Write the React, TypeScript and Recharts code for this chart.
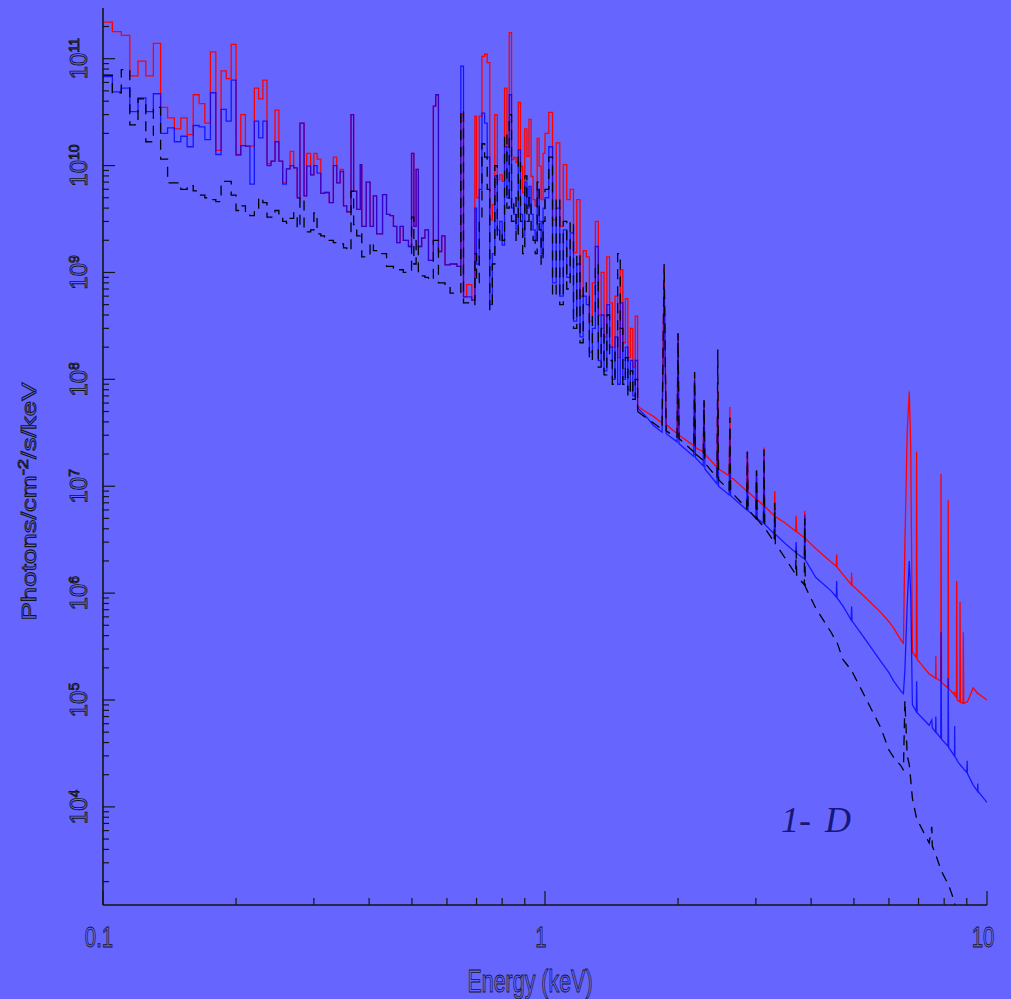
import React from "react";
import { LineChart, Line, XAxis, YAxis } from "recharts";

const BG = "#6666ff";
const INK = "#151515";

// binned part of the spectrum (0.1 - 1.62 keV), drawn as steps
const binEnergy = [
  0.1, 0.105, 0.11, 0.115, 0.12, 0.125, 0.13, 0.135, 0.14, 0.145, 0.15, 0.155, 0.16, 0.165, 0.17, 0.175, 0.18, 0.185,
  0.19, 0.195, 0.2, 0.205, 0.21, 0.215, 0.22, 0.225, 0.23, 0.235, 0.24, 0.245, 0.25, 0.255, 0.26, 0.265, 0.27, 0.275,
  0.279, 0.285, 0.289, 0.295, 0.3, 0.305, 0.311, 0.317, 0.325, 0.332, 0.338, 0.344, 0.35, 0.356, 0.364, 0.369, 0.375,
  0.382, 0.385, 0.394, 0.402, 0.409, 0.416, 0.429, 0.438, 0.446, 0.454, 0.462, 0.47, 0.478, 0.491, 0.499, 0.505, 0.511,
  0.517, 0.526, 0.535, 0.545, 0.559, 0.566, 0.574, 0.584, 0.594, 0.61, 0.632, 0.645, 0.654, 0.665, 0.683, 0.694,
  0.7, 0.71, 0.72, 0.73, 0.74, 0.75, 0.76, 0.77, 0.78, 0.79, 0.8, 0.81, 0.82, 0.83, 0.84, 0.85, 0.86, 0.87, 0.88, 0.89,
  0.9, 0.91, 0.92, 0.93, 0.94, 0.95, 0.96, 0.97, 0.98, 0.99,
  1.0, 1.02, 1.04, 1.06, 1.08, 1.1, 1.12, 1.14, 1.16, 1.18, 1.2, 1.22, 1.24, 1.26, 1.28, 1.3, 1.32, 1.34, 1.36, 1.38,
  1.4, 1.42, 1.44, 1.46, 1.48, 1.5, 1.52, 1.54, 1.56, 1.58, 1.6, 1.62,
];

const redBin = [
  2.2e11, 1.79e11, 1.65e11, 6.9e10, 9.5e10, 6.9e10, 1.39e11, 3.5e10, 2.8e10, 2.2e10, 2.8e10, 1.95e10, 4.6e10, 3.8e10,
  2.5e10, 1.16e11, 1.39e10, 7.7e10, 6.5e10, 1.36e11, 1.27e10, 3.0e10, 1.52e10, 1.52e10, 5.3e10, 4.2e10, 6.3e10, 1.04e10,
  1.1e10, 3.3e10, 1.1e10, 6.9e9, 9.3e9, 1.36e10, 9.5e9, 5.0e9,
  2.5e10, 5.2e9, 1.3e10, 8.2e9, 1.3e10, 1.15e10, 5.5e9, 5.6e9, 4.5e9, 1.2e10, 6.9e9, 9.2e9, 4.2e9, 3.7e9, 3.0e10, 5.75e9,
  3.9e9, 1.02e10, 2.7e9, 7.0e9, 2.7e9, 5.2e9, 2.3e9, 5.35e9, 3.5e9, 3.4e9, 2.7e9, 1.9e9, 2.7e9, 2.0e9, 1.75e9, 1.3e10,
  2.7e9, 9.2e9, 1.75e9, 2.1e9, 2.5e9, 1.3e9, 3.6e10, 4.6e10, 1.57e9, 2.2e9, 1.18e9, 1.2e9, 1.14e9, 3.0e10, 5.9e8, 7.7e8,
  5.5e8, 2.9e10,
  5e9, 2.9e10, 1.05e11, 1.1e11, 9.2e10, 3.1e9, 4.3e9, 3.0e10, 7.4e9, 8.2e9, 7.1e9, 5.3e10, 1.5e10, 1.75e11, 1.14e10,
  1.19e10, 1.07e10, 3.9e10, 9.9e9, 5.6e9, 2.2e10, 1.22e10, 2.7e10, 7.9e9, 4.8e9, 4.2e9, 1.8e10, 9.9e9, 4.8e9, 1.3e10,
  2.0e10, 3.15e10, 3.1e9, 1.63e10, 2.7e9, 1.02e10, 4.8e9, 6.0e9, 1.53e9, 4.8e9, 6e8, 1.6e9, 1.4e9, 3.5e8, 8e8, 3.0e9,
  4e8, 1.0e9, 2.5e8, 1.4e9, 5.2e8, 2.0e8, 6e8, 1.6e8, 1.06e9, 2.2e8, 5.7e8, 1.6e8, 3.0e8, 1.3e8, 3.9e8, 5.6e7,
];

const blueBin = [
  6.8e10, 4.9e10, 5.3e10, 3.2e10, 4.3e10, 3.2e10, 4.7e10, 2.0e10, 2.25e10, 1.67e10, 1.88e10, 1.5e10, 2.37e10, 2.3e10,
  1.75e10, 4.8e10, 1.27e10, 3.35e10, 2.6e10, 6.3e10, 1.25e10, 1.54e10, 1.52e10, 6.7e9, 2.6e10, 1.82e10, 2.6e10, 1.0e10,
  1.1e10, 1.67e10, 1.1e10, 6.7e9, 9.3e9, 1.0e10, 9.5e9, 5.0e9,
  2.5e10, 5.2e9, 9.9e9, 8.2e9, 1.0e10, 8.5e9, 5.5e9, 5.6e9, 4.5e9, 1.0e10, 6.9e9, 8.8e9, 4.2e9, 3.7e9, 3.0e10, 5.75e9,
  3.9e9, 1.02e10, 2.7e9, 7.0e9, 2.7e9, 5.2e9, 2.3e9, 5.35e9, 3.5e9, 3.4e9, 2.7e9, 1.9e9, 2.7e9, 2.0e9, 1.75e9, 1.3e10,
  2.7e9, 9.2e9, 1.75e9, 2.1e9, 2.5e9, 1.3e9, 3.6e10, 4.6e10, 1.57e9, 2.2e9, 1.18e9, 1.2e9, 1.14e9, 8.5e10, 5.9e8, 5.9e8,
  5.5e8, 4.0e9,
  1.2e9, 6e9, 3.1e10, 2.5e10, 1.2e10, 5e8, 1.5e9, 8e9, 2.5e9, 3e9, 1.8e9, 1.5e10, 5e9, 4.6e10, 4e9, 3.5e9, 2.5e9, 1.4e10,
  3.5e9, 2.2e9, 7e9, 4e9, 6.4e9, 3.5e9, 2.5e9, 2.0e9, 6e9, 3e9, 1.5e9, 4e9,
  5e9, 1.5e10, 8e8, 4e9, 6e8, 2.5e9, 9e8, 2.35e9, 3.5e8, 1.2e9, 2.5e8, 6e8, 5e8, 1.8e8, 3e8, 1.75e9, 1.5e8, 4e8, 1.2e8,
  5e8, 2e8, 1.0e8, 2.5e8, 9e7, 5.2e8, 1.0e8, 2.0e8, 8e7, 1.5e8, 7e7, 1.5e8, 5.4e7,
];

const blackBin = [
  7.0e10, 4.8e10, 7.9e10, 2.4e10, 4.2e10, 1.67e10, 3.5e10, 1.15e10, 6.9e9, 6.9e9, 6.0e9, 6.5e9, 5.8e9, 5.3e9, 5.0e9,
  4.8e9, 4.6e9, 7.1e9, 7.1e9, 5.3e9, 3.8e9, 4.2e9, 3.5e9, 3.4e9, 4.0e9, 5.0e9, 4.5e9, 3.3e9, 3.3e9, 3.8e9, 3.2e9, 3.0e9,
  2.9e9, 3.2e9, 3.6e9, 2.6e9,
  5.0e9, 2.6e9, 2.4e9, 2.5e9, 3.6e9, 2.3e9, 2.2e9, 2.1e9, 2.0e9, 1.9e9, 1.9e9, 1.85e9, 1.7e9, 1.6e9, 5.75e9, 2.8e9,
  2.2e9, 2.4e9, 1.4e9, 1.4e9, 1.9e9, 1.6e9, 1.5e9, 1.5e9, 1.14e9, 1.14e9, 1.1e9, 1.06e9, 1.06e9, 1.0e9, 1.0e9, 3.3e9,
  1.2e9, 2.0e9, 9.3e8, 9.3e8, 9.0e8, 8.5e8, 2.0e9, 2.0e9, 8.0e8, 8.0e8, 7.5e8, 6.4e8, 6.4e8, 3.3e10, 5.2e8, 5.2e8,
  5.0e8, 1.5e9,
  8e8, 3e9, 1.6e10, 1.2e10, 6e9, 4.5e8, 1.2e9, 1e10, 2e9, 2.5e9, 2e9, 2e10, 4e9, 3e10, 3e9, 5e9, 2e9, 1.2e10, 3e9, 1.5e9,
  8e9, 3e9, 5e9, 2.5e9, 2e9, 1.5e9, 7e9, 2.5e9, 1.2e9, 3e9,
  6e9, 1.2e10, 6e8, 5e9, 5e8, 3e9, 7e8, 3e9, 3e8, 1.5e9, 2.2e8, 8e8, 6e8, 1.5e8, 4e8, 1.2e9, 1.3e8, 3e8, 1.1e8, 4e8,
  1.5e8, 9e7, 2e8, 1.5e9, 3e8, 9e7, 1.6e8, 7e7, 1.2e8, 6.5e7, 1.0e8, 5.0e7,
];

// continuum + emission lines (1.62 - 10 keV)
const lineEnergy = [
  1.62, 1.7, 1.76, 1.84, 1.86, 1.88, 1.92, 1.99, 2.0, 2.01, 2.17, 2.18, 2.19, 2.28, 2.29, 2.3, 2.45, 2.46, 2.47, 2.61,
  2.62, 2.63, 2.67, 2.86, 2.87, 2.88, 3.0, 3.01, 3.02, 3.12, 3.13, 3.14, 3.3, 3.31, 3.32, 3.5, 3.69, 3.7, 3.71, 3.86,
  3.87, 3.88, 4.1, 4.44, 4.56, 4.57, 4.58, 4.72, 4.93, 4.94, 4.95, 5.28, 5.75, 6.0, 6.15, 6.4, 6.47, 6.52, 6.6, 6.67,
  6.72, 6.78, 6.92, 6.93, 6.95, 7.4, 7.5, 7.52, 7.65, 7.66, 7.67, 7.86, 7.87, 7.89, 8.16, 8.17, 8.19, 8.44, 8.45, 8.46,
  8.53, 8.54, 8.56, 8.68, 8.69, 8.71, 8.83, 8.84, 8.86, 9.0, 9.02, 9.03, 9.31, 9.52, 9.53, 9.54, 10,
];

const redLine = [
  5.6e7, 4.9e7, 4.5e7, 3.9e7, 1.1e9, 3.8e7, 3.5e7, 3.1e7, 2.7e8, 3.0e7, 2.4e7, 1.17e8, 2.3e7, 2.1e7, 6.2e7, 2.0e7,
  1.5e7, 8e7, 1.45e7, 1.25e7, 5.5e7, 1.2e7, 1.17e7, 9.0e6, 2.1e7, 8.9e6, 7.6e6, 1.4e7, 7.5e6, 6.6e6, 2.3e7, 6.5e6,
  5.3e6, 9.0e6, 5.2e6, 4.5e6, 3.8e6, 5.3e6, 3.75e6, 3.3e6, 5.9e6, 3.25e6, 2.6e6, 1.95e6, 1.78e6, 2.3e6, 1.75e6, 1.5e6,
  1.2e6, 1.55e6, 1.19e6, 9.3e5, 6.6e5, 5.4e5, 4.7e5, 3.6e5, 3.4e5, 2.9e6, 3.3e7, 7.7e7, 2.5e7, 2.8e5, 2.5e5, 2.1e7,
  2.4e5, 1.75e5, 1.7e5, 1.68e5, 1.6e5, 2.6e5, 1.6e5, 1.5e5, 1.3e7, 1.45e5, 1.3e5, 7.4e6, 1.28e5, 1.12e5, 1.2e5, 1.1e5,
  1.05e5, 1.3e6, 1.0e5, 9.6e4, 8.3e5, 9.5e4, 9.3e4, 4.3e5, 9.3e4, 9.6e4, 9.6e4, 9.6e4, 1.3e5, 1.15e5, 1.15e5, 1.15e5,
  1.0e5,
];

const blueLine = [
  5.4e7, 4.4e7, 3.7e7, 3.2e7, 7.4e8, 3.1e7, 2.9e7, 2.6e7, 2.7e8, 2.5e7, 1.9e7, 1.0e8, 1.85e7, 1.55e7, 6.2e7, 1.45e7,
  1.05e7, 6e7, 1.0e7, 8.3e6, 3.5e7, 8.2e6, 7.7e6, 6.0e6, 2.1e7, 5.9e6, 5.1e6, 1.4e7, 5.0e6, 4.5e6, 2.0e7, 4.4e6,
  3.6e6, 6.0e6, 3.55e6, 2.9e6, 2.4e6, 3.0e6, 2.35e6, 2.1e6, 5.4e6, 2.05e6, 1.4e6, 1.05e6, 9.2e5, 1.3e6, 9.0e5, 7.6e5,
  5.6e5, 7.5e5, 5.5e5, 3.8e5, 2.3e5, 1.8e5, 1.5e5, 1.2e5, 1.15e5, 1.9e5, 8.0e5, 2.0e6, 1.0e6, 9.0e4, 7.8e4, 1.5e5,
  7.6e4, 5.8e4, 6.5e4, 5.5e4, 5.0e4, 7.0e4, 5.0e4, 4.4e4, 4.3e5, 4.3e4, 3.7e4, 1.6e5, 3.6e4, 3.0e4, 5.7e4, 2.95e4,
  2.8e4, 2.8e4, 2.7e4, 2.5e4, 2.5e4, 2.45e4, 2.3e4, 2.3e4, 2.25e4, 2.1e4, 2.7e4, 2.05e4, 1.6e4, 1.4e4, 1.65e4, 1.4e4,
  1.1e4,
];

const blackLine = [
  5.0e7, 4.3e7, 3.9e7, 3.4e7, 1.2e9, 3.3e7, 3.1e7, 2.9e7, 2.7e8, 2.8e7, 2.1e7, 1.17e8, 2.0e7, 1.75e7, 6.4e7, 1.65e7,
  1.2e7, 1.9e8, 1.15e7, 9.2e6, 4.4e7, 9.0e6, 8.4e6, 6.2e6, 2.1e7, 6.1e6, 5.0e6, 1.4e7, 4.9e6, 4.2e6, 2.2e7, 4.1e6,
  3.0e6, 7.0e6, 2.9e6, 2.1e6, 1.5e6, 2.5e6, 1.45e6, 1.2e6, 5.0e6, 1.15e6, 7.2e5, 4.3e5, 3.5e5, 3.5e5, 3.45e5, 2.4e5,
  1.9e5, 1.9e5, 1.85e5, 1.1e5, 5.5e4, 3.4e4, 2.9e4, 2.4e4, 2.2e4, 9.9e4, 3.0e4, 2.5e4, 1.8e4, 1.2e4, 8.0e3, 7.8e3,
  7.6e3, 4.6e3, 6.5e3, 4.3e3, 3.6e3, 3.5e3, 3.5e3, 2.6e3, 2.6e3, 2.5e3, 1.9e3, 1.9e3, 1.85e3, 1.3e3, 1.25e3, 1.2e3,
  1.1e3, 1.0e3, 9.5e2, 8.5e2, 8.4e2, 8.2e2, 7.5e2, 7.4e2, 7.2e2, 6.5e2, 6.3e2, 6.2e2, 5.0e2, 4.3e2, 4.2e2, 4.2e2,
  3.0e2,
];

const xTicks = [0.1, 0.2, 0.3, 0.4, 0.5, 0.6, 0.7, 0.8, 0.9, 1, 2, 3, 4, 5, 6, 7, 8, 9, 10];
const xTickLabels: Record<number, string> = { 0.1: "0.1", 1: "1", 10: "10" };
const yDecades = [3, 4, 5, 6, 7, 8, 9, 10, 11];
const yMantissas = [1, 2, 3, 4, 5, 6, 7, 8, 9];

const X_DOMAIN = [0.1, 10];
const Y_DOMAIN = [1208, 2.98e11];
const yTicks = yDecades
  .flatMap((d) => yMantissas.map((m) => m * Math.pow(10, d)))
  .filter((v) => v >= Y_DOMAIN[0] && v <= Y_DOMAIN[1]);

const binRows = binEnergy.map((e, i) => ({ e, red: redBin[i], blue: blueBin[i], black: blackBin[i] }));
const lineRows = lineEnergy.map((e, i) => ({ e, red: redLine[i], blue: blueLine[i], black: blackLine[i] }));

const isDecade = (v: number) => Math.abs(Math.log10(v) - Math.round(Math.log10(v))) < 1e-9;

const outline = { fill: BG, stroke: INK, strokeWidth: 0.9, fontFamily: "'Liberation Sans', Arial, sans-serif" };

const BottomTick = (props: any) => {
  const { x, y, payload } = props;
  const major = isDecade(payload.value);
  const label = xTickLabels[payload.value];
  return (
    <g>
      <line x1={x} y1={y} x2={x} y2={y - (major ? 14 : 7)} stroke={INK} strokeWidth={1.2} />
      {label && (
        <text transform={`translate(${x - 4} ${y + 42}) scale(0.68 1)`} textAnchor="middle" fontSize={30} {...outline}>
          {label}
        </text>
      )}
    </g>
  );
};

const TopTick = (props: any) => {
  const { x, y, payload } = props;
  const major = isDecade(payload.value);
  return <line x1={x} y1={y} x2={x} y2={y + (major ? 14 : 7)} stroke={INK} strokeWidth={1.2} />;
};

const LeftTick = (props: any) => {
  const { x, y, payload } = props;
  const major = isDecade(payload.value);
  const exp = Math.round(Math.log10(payload.value));
  const lx = x - 16;
  return (
    <g>
      <line x1={x} y1={y} x2={x + (major ? 12 : 6)} y2={y} stroke={INK} strokeWidth={1.2} />
      {major && (
        <text transform={`rotate(-90 ${lx} ${y})`} x={lx} y={y} textAnchor="middle" fontSize={24} {...outline}>
          10
          <tspan fontSize={14} dy={-8}>
            {exp}
          </tspan>
        </text>
      )}
    </g>
  );
};

const RightTick = (props: any) => {
  const { x, y, payload } = props;
  const major = isDecade(payload.value);
  return <line x1={x} y1={y} x2={x - (major ? 12 : 6)} y2={y} stroke={INK} strokeWidth={1.2} />;
};

const XTitle = (props: any) => {
  const vb = props.viewBox;
  const cx = vb.x + vb.width / 2 - 15;
  return (
    <text transform={`translate(${cx} ${vb.y + 87}) scale(0.67 1)`} textAnchor="middle" fontSize={32} {...outline}>
      Energy (keV)
    </text>
  );
};

const YTitle = (props: any) => {
  const vb = props.viewBox;
  const bx = vb.x + 36;
  const cy = vb.y + vb.height / 2 + 45;
  return (
    <text
      transform={`rotate(-90 ${bx} ${cy})`}
      x={bx}
      y={cy}
      textAnchor="middle"
      fontSize={21}
      textLength={238}
      lengthAdjust="spacingAndGlyphs"
      {...outline}
    >
      Photons/cm
      <tspan fontSize={14} dy={-8}>
        -2
      </tspan>
      <tspan dy={8}>/s/keV</tspan>
    </text>
  );
};

const axisLine = { stroke: INK, strokeWidth: 1.6 };

export default function App() {
  return (
    <div style={{ position: "absolute", left: 0, top: 0, width: 1011, height: 999, background: BG }}>
      <LineChart width={1011} height={999} margin={{ top: 8, right: 24, bottom: 0, left: 0 }}>
        <XAxis
          xAxisId="b"
          dataKey="e"
          type="number"
          scale="log"
          domain={X_DOMAIN}
          allowDataOverflow
          ticks={xTicks}
          interval={0}
          height={94}
          tickSize={0}
          tickMargin={0}
          tickLine={false}
          axisLine={axisLine}
          tick={<BottomTick />}
          label={<XTitle />}
        />
        <XAxis
          xAxisId="t"
          orientation="top"
          dataKey="e"
          type="number"
          scale="log"
          domain={X_DOMAIN}
          allowDataOverflow
          ticks={xTicks}
          interval={0}
          height={0}
          tickSize={0}
          tickMargin={0}
          tickLine={false}
          axisLine={axisLine}
          tick={<TopTick />}
        />
        <YAxis
          yAxisId="l"
          type="number"
          scale="log"
          domain={Y_DOMAIN}
          allowDataOverflow
          ticks={yTicks}
          interval={0}
          width={103}
          tickSize={0}
          tickMargin={0}
          tickLine={false}
          axisLine={axisLine}
          tick={<LeftTick />}
          label={<YTitle />}
        />
        <YAxis
          yAxisId="r"
          orientation="right"
          type="number"
          scale="log"
          domain={Y_DOMAIN}
          allowDataOverflow
          ticks={yTicks}
          interval={0}
          width={0}
          tickSize={0}
          tickMargin={0}
          tickLine={false}
          axisLine={axisLine}
          tick={<RightTick />}
        />
        <Line xAxisId="b" yAxisId="l" data={binRows} dataKey="red" type="stepAfter" stroke="#ff0000" strokeWidth={1.3} dot={false} activeDot={false} isAnimationActive={false} />
        <Line xAxisId="b" yAxisId="l" data={lineRows} dataKey="red" type="linear" stroke="#ff0000" strokeWidth={1.3} dot={false} activeDot={false} isAnimationActive={false} />
        <Line xAxisId="b" yAxisId="l" data={binRows} dataKey="blue" type="stepAfter" stroke="#0000ff" strokeOpacity={0.8} strokeWidth={1.3} dot={false} activeDot={false} isAnimationActive={false} />
        <Line xAxisId="b" yAxisId="l" data={lineRows} dataKey="blue" type="linear" stroke="#0000ff" strokeOpacity={0.8} strokeWidth={1.3} dot={false} activeDot={false} isAnimationActive={false} />
        <Line xAxisId="b" yAxisId="l" data={binRows} dataKey="black" type="stepAfter" stroke="#000000" strokeWidth={1.3} strokeDasharray="10 7" dot={false} activeDot={false} isAnimationActive={false} />
        <Line xAxisId="b" yAxisId="l" data={lineRows} dataKey="black" type="linear" stroke="#000000" strokeWidth={1.3} strokeDasharray="10 7" dot={false} activeDot={false} isAnimationActive={false} />
      </LineChart>
      <svg width={1011} height={999} style={{ position: "absolute", left: 0, top: 0, pointerEvents: "none" }}>
        <text x={781} y={832} fontSize={36} fontStyle="italic" fontFamily="'Liberation Serif', 'DejaVu Serif', serif" fill="#17177a">
          1-
          <tspan dx={14}>D</tspan>
        </text>
      </svg>
    </div>
  );
}
